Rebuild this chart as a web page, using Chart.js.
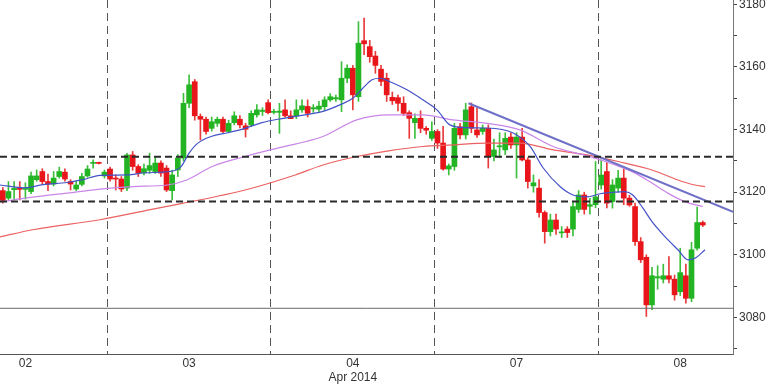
<!DOCTYPE html>
<html><head><meta charset="utf-8">
<script src="https://cdn.jsdelivr.net/npm/chart.js@4/dist/chart.umd.min.js"></script>
<style>html,body{margin:0;padding:0;background:#fff}#wrap{width:768px;height:384px}</style>
</head><body><div id="wrap"><canvas id="c" width="768" height="384"></canvas></div>
<script>
// ---- data ----
const dayLabels = ['02', '03', '04', '07', '08'];
const monthLabel = 'Apr 2014';
const dayCenters = [4, 33, 62, 91, 120];
const dayBreaks = [18.5, 47.5, 76.5, 105.5];

const opens = [3120.5,3118.1,3120.8,3121.2,3120.9,3120.2,3124.0,3126.6,3123.4,3122.6,3125.0,3126.4,3123.4,3121.0,3122.5,3125.2,3129.2,3129.4,3125.2,
 3127.4,3124.4,3124.2,3121.3,3131.9,3128.2,3126.1,3127.0,3126.6,3129.3,3127.7,3120.5,3127.1,3130.9,3148.4,3155.3,3144.2,3143.3,3140.4,3142.0,3143.3,3139.4,3142.2,3143.3,3141.2,3141.5,3144.7,3145.8,3148.6,
 3145.5,3145.5,3146.3,3144.4,3144.4,3146.3,3147.4,3146.6,3146.5,3147.3,3149.5,3149.8,3149.5,3156.4,3159.6,3150.5,3168.4,3166.5,3163.5,3159.3,3156.4,3150.3,3150.2,3148.4,3145.4,3142.2,3143.6,3140.4,3137.2,
 3139.4,3135.7,3127.4,3128.2,3140.9,3138.3,3147.3,3139.9,3139.4,3140.4,3131.4,3134.5,3133.5,3137.6,3135.1,3137.6,3130.3,3122.0,3121.3,3113.5,3107.4,3111.1,3107.0,3108.2,3108.2,3114.5,3119.1,3115.5,3116.0,
 3122.3,3126.6,3117.0,3121.3,3124.5,3118.1,3115.4,3104.2,3099.2,3084.0,3092.6,3092.2,3093.3,3092.2,3088.2,3093.3,3086.1,3102.1,3110.3];
const highs = [3121.5,3123.4,3123.4,3123.4,3123.0,3126.4,3127.1,3127.5,3125.8,3126.6,3128.0,3127.5,3124.0,3123.5,3126.0,3128.5,3130.3,3129.6,3127.1,
 3128.0,3125.5,3125.0,3132.4,3133.0,3128.8,3129.0,3132.5,3131.0,3130.0,3128.5,3127.0,3132.0,3151.6,3157.5,3156.0,3145.0,3144.0,3144.0,3144.0,3144.0,3143.0,3145.7,3144.5,3142.0,3146.0,3148.0,3147.0,3149.5,
 3146.5,3148.4,3149.5,3146.0,3149.5,3149.5,3149.5,3148.0,3149.0,3150.5,3151.5,3151.0,3161.7,3160.7,3160.5,3174.5,3175.6,3168.5,3165.0,3160.5,3158.0,3152.0,3151.0,3150.5,3146.0,3145.0,3146.0,3141.0,3142.5,
 3140.0,3141.0,3129.0,3142.0,3142.0,3148.4,3148.5,3146.9,3141.5,3141.5,3137.0,3139.0,3139.0,3139.0,3139.0,3140.4,3131.0,3125.5,3124.0,3114.0,3113.0,3113.0,3109.0,3109.0,3117.0,3120.5,3120.0,3118.0,3129.8,
 3130.3,3129.5,3124.0,3127.0,3127.5,3119.0,3116.5,3105.5,3100.0,3096.0,3096.5,3097.0,3099.4,3093.5,3102.1,3097.0,3104.0,3115.2,3110.8];
const lows = [3116.5,3117.5,3117.5,3117.5,3117.8,3119.5,3123.5,3122.5,3120.5,3122.0,3124.5,3123.5,3120.7,3120.5,3122.0,3124.8,3127.7,3129.0,3124.5,
 3123.5,3120.7,3120.2,3120.5,3127.0,3125.0,3125.5,3126.0,3126.0,3125.0,3120.2,3117.5,3125.0,3130.0,3147.0,3143.0,3136.7,3138.5,3139.5,3141.0,3139.0,3139.0,3141.5,3140.5,3137.6,3141.0,3144.0,3144.5,3145.0,
 3145.0,3138.8,3144.0,3143.5,3143.5,3145.5,3144.0,3145.5,3145.5,3146.0,3149.0,3149.0,3145.7,3155.0,3146.3,3149.0,3163.9,3161.5,3158.0,3154.0,3149.0,3148.0,3146.0,3144.5,3137.2,3137.2,3139.0,3138.5,3136.5,
 3134.0,3127.0,3125.5,3127.0,3137.0,3137.0,3139.0,3137.5,3138.5,3127.7,3130.0,3131.0,3132.0,3134.0,3124.5,3130.0,3121.3,3120.0,3112.0,3103.7,3106.0,3106.5,3105.5,3105.5,3106.0,3113.5,3113.0,3113.0,3115.0,
 3121.0,3115.0,3114.9,3120.0,3116.0,3115.5,3103.0,3097.5,3080.3,3082.5,3089.0,3091.0,3091.0,3085.5,3087.0,3084.5,3085.0,3101.5,3109.0];
const closes = [3117.4,3120.2,3121.2,3120.9,3121.3,3125.2,3125.2,3123.4,3122.6,3124.5,3126.6,3124.2,3122.6,3122.3,3125.0,3127.4,3129.4,3129.2,3126.4,
 3124.2,3124.2,3121.0,3131.9,3128.2,3126.1,3127.5,3128.5,3129.3,3126.1,3120.7,3125.5,3130.9,3148.4,3154.3,3144.4,3143.3,3139.4,3142.5,3143.3,3139.4,3142.0,3144.4,3141.5,3140.1,3145.2,3146.3,3146.2,3145.4,
 3145.8,3145.9,3144.4,3143.5,3146.3,3147.6,3145.2,3147.0,3147.5,3149.5,3150.5,3150.2,3156.4,3159.6,3151.1,3167.6,3167.4,3163.3,3160.5,3155.4,3151.1,3149.2,3148.4,3145.2,3143.6,3143.6,3140.4,3139.8,3139.4,
 3135.7,3127.4,3128.4,3140.4,3138.3,3146.3,3140.4,3138.3,3140.4,3131.4,3133.5,3134.8,3137.2,3135.1,3137.6,3130.3,3123.4,3123.0,3113.5,3107.4,3111.1,3108.2,3107.3,3107.1,3115.4,3119.1,3114.5,3116.0,3118.5,
 3125.5,3116.5,3122.3,3124.5,3118.1,3115.9,3104.2,3098.4,3084.0,3093.3,3093.0,3093.3,3092.2,3087.2,3094.3,3086.1,3101.6,3110.3,3109.5];

const blueMA = [[-0.5,3122.3],[3.9,3121.4],[7.1,3122.4],[11.4,3123.1],[14.2,3124.0],[17.2,3125.4],[22,3125.5],[25.2,3126.2],[29.5,3126.6],[31.5,3128.0],[33,3132.5],[34.5,3135.6],[36.9,3137.8],[39.9,3139.0],[42.9,3140.4],[45.9,3142.2],[48.7,3143.3],[51.8,3144.2],[56.7,3145.8],[59.7,3147.9],[62,3150.0],[63.6,3152.9],[65.4,3155.9],[66.8,3156.4],[68.6,3155.3],[71.6,3152.7],[74.4,3149.5],[76.9,3146.3],[79.2,3141.5],[82,3140.6],[85.8,3140.5],[90.4,3138.9],[93.4,3134.6],[95.7,3127.8],[98.7,3121.8],[101,3119.1],[103.5,3118.5],[105.8,3119.5],[107.9,3119.9],[110.2,3120.2],[111.6,3119.1],[113.4,3114.9],[115,3110.6],[117.3,3105.8],[119.6,3101.6],[121.4,3098.4],[122.6,3098.9],[124.4,3101.6]];
const violetMA = [[-0.5,3116.9],[5.3,3118.4],[11.4,3119.7],[17.2,3121.0],[23.1,3121.8],[29.1,3122.3],[32.6,3123.9],[37.1,3128.2],[42.9,3131.4],[48.7,3134.1],[56.7,3137.8],[62.7,3143.1],[68.6,3144.7],[74.4,3144.7],[79.7,3143.1],[85.8,3142.0],[91.6,3139.9],[97.5,3134.6],[103.5,3131.6],[106.7,3129.8],[112,3126.1],[115,3122.9],[117.8,3119.7],[120.8,3117.0],[124,3115.4]];
const redMA = [[-0.5,3105.7],[5.3,3108.0],[17.2,3111.2],[26.1,3114.4],[42.9,3120.7],[51.8,3125.5],[56.7,3128.7],[62.7,3131.4],[68.6,3133.3],[74.4,3134.6],[79.7,3135.1],[85.8,3135.7],[91.6,3135.7],[97.5,3133.5],[103.5,3131.9],[109,3129.8],[115,3127.1],[119.6,3123.9],[122.6,3122.3],[124.4,3121.8]];
const trendline = [[82.5,3148.4],[129.35,3113.7]];
const resistanceLevels = [3131.3, 3117.0];
const supportLevel = 3082.9;

// ---- chart ----
const X_MIN = -0.5, X_MAX = 129.35;
const UP = '#22b422', DOWN = '#e8161b';
const idx = opens.map((_, i) => i);
const isUp = idx.map(i => closes[i] >= opens[i]);
const pts = arr => arr.map(p => ({x: p[0], y: p[1]}));
const hLine = v => [{x: X_MIN, y: v}, {x: X_MAX, y: v}];
const FONT = {family: '"Liberation Sans", Arial, sans-serif', size: 12};

const datasets = [
  {type: 'bar', label: 'wicks', data: idx.map(i => ({x: i, y: [lows[i], highs[i]]})),
   backgroundColor: idx.map(i => isUp[i] ? '#3cbf3c' : '#e83a3a'), barThickness: 1, grouped: false, order: 6},
  {type: 'bar', label: 'bodies', data: idx.map(i => ({x: i, y: [opens[i], closes[i]]})),
   backgroundColor: idx.map(i => isUp[i] ? UP : DOWN), barThickness: 5, minBarLength: 1, grouped: false, order: 5},
  {type: 'line', label: 'ma3', data: pts(redMA), borderColor: '#ec6161', borderWidth: 1.2, pointRadius: 0, cubicInterpolationMode: 'monotone', order: 4},
  {type: 'line', label: 'ma2', data: pts(violetMA), borderColor: '#c986e8', borderWidth: 1.2, pointRadius: 0, cubicInterpolationMode: 'monotone', order: 3},
  {type: 'line', label: 'ma1', data: pts(blueMA), borderColor: '#4352c8', borderWidth: 1.2, pointRadius: 0, cubicInterpolationMode: 'monotone', order: 2},
  {type: 'line', label: 'trend', data: pts(trendline), borderColor: '#6e6fc6', borderWidth: 2, pointRadius: 0, order: 1},
  ...resistanceLevels.map(v => ({type: 'line', label: 'res', data: hLine(v), borderColor: '#2a2a2a', borderWidth: 2, borderDash: [7, 4], pointRadius: 0, order: 0})),
  {type: 'line', label: 'sup', data: hLine(supportLevel), borderColor: '#6a6a6a', borderWidth: 1, pointRadius: 0, order: 0}
];

new Chart(document.getElementById('c'), {
  type: 'bar',
  data: {datasets},
  options: {
    responsive: false, animation: false, devicePixelRatio: 1,
    layout: {padding: 0},
    plugins: {legend: {display: false}, tooltip: {enabled: false}},
    scales: {
      x: {
        type: 'linear', min: X_MIN, max: X_MAX, offset: false,
        afterBuildTicks: s => { s.ticks = [...dayCenters, ...dayBreaks].sort((a, b) => a - b).map(v => ({value: v})); },
        afterFit: s => { s.height = 30; s.paddingLeft = 0; s.paddingRight = 0; },
        ticks: {
          autoSkip: false, maxRotation: 0, padding: 2, color: '#333', font: FONT,
          callback: v => { const k = dayCenters.indexOf(v); if (k < 0) return ''; return k === 2 ? [dayLabels[k], monthLabel] : dayLabels[k]; }
        },
        grid: {offset: false, drawTicks: false, lineWidth: 1, color: c => (c.tick && dayBreaks.includes(c.tick.value)) ? '#555' : 'rgba(0,0,0,0)'},
        border: {display: true, color: '#555', width: 1, dash: [8, 5]}
      },
      y: {
        type: 'linear', position: 'right', min: 3068.3, max: 3181.4,
        afterFit: s => { s.width = 35; s.paddingTop = 0; s.paddingBottom = 0; },
        ticks: {stepSize: 10, includeBounds: false, padding: 2, color: '#333', font: FONT,
          callback: v => (Math.round(v) % 20 === 0 ? String(Math.round(v)) : '')},
        grid: {drawOnChartArea: false, drawTicks: true, tickLength: 4, color: '#444'},
        border: {display: true, color: '#777', width: 1}
      }
    }
  }
});
</script></body></html>
